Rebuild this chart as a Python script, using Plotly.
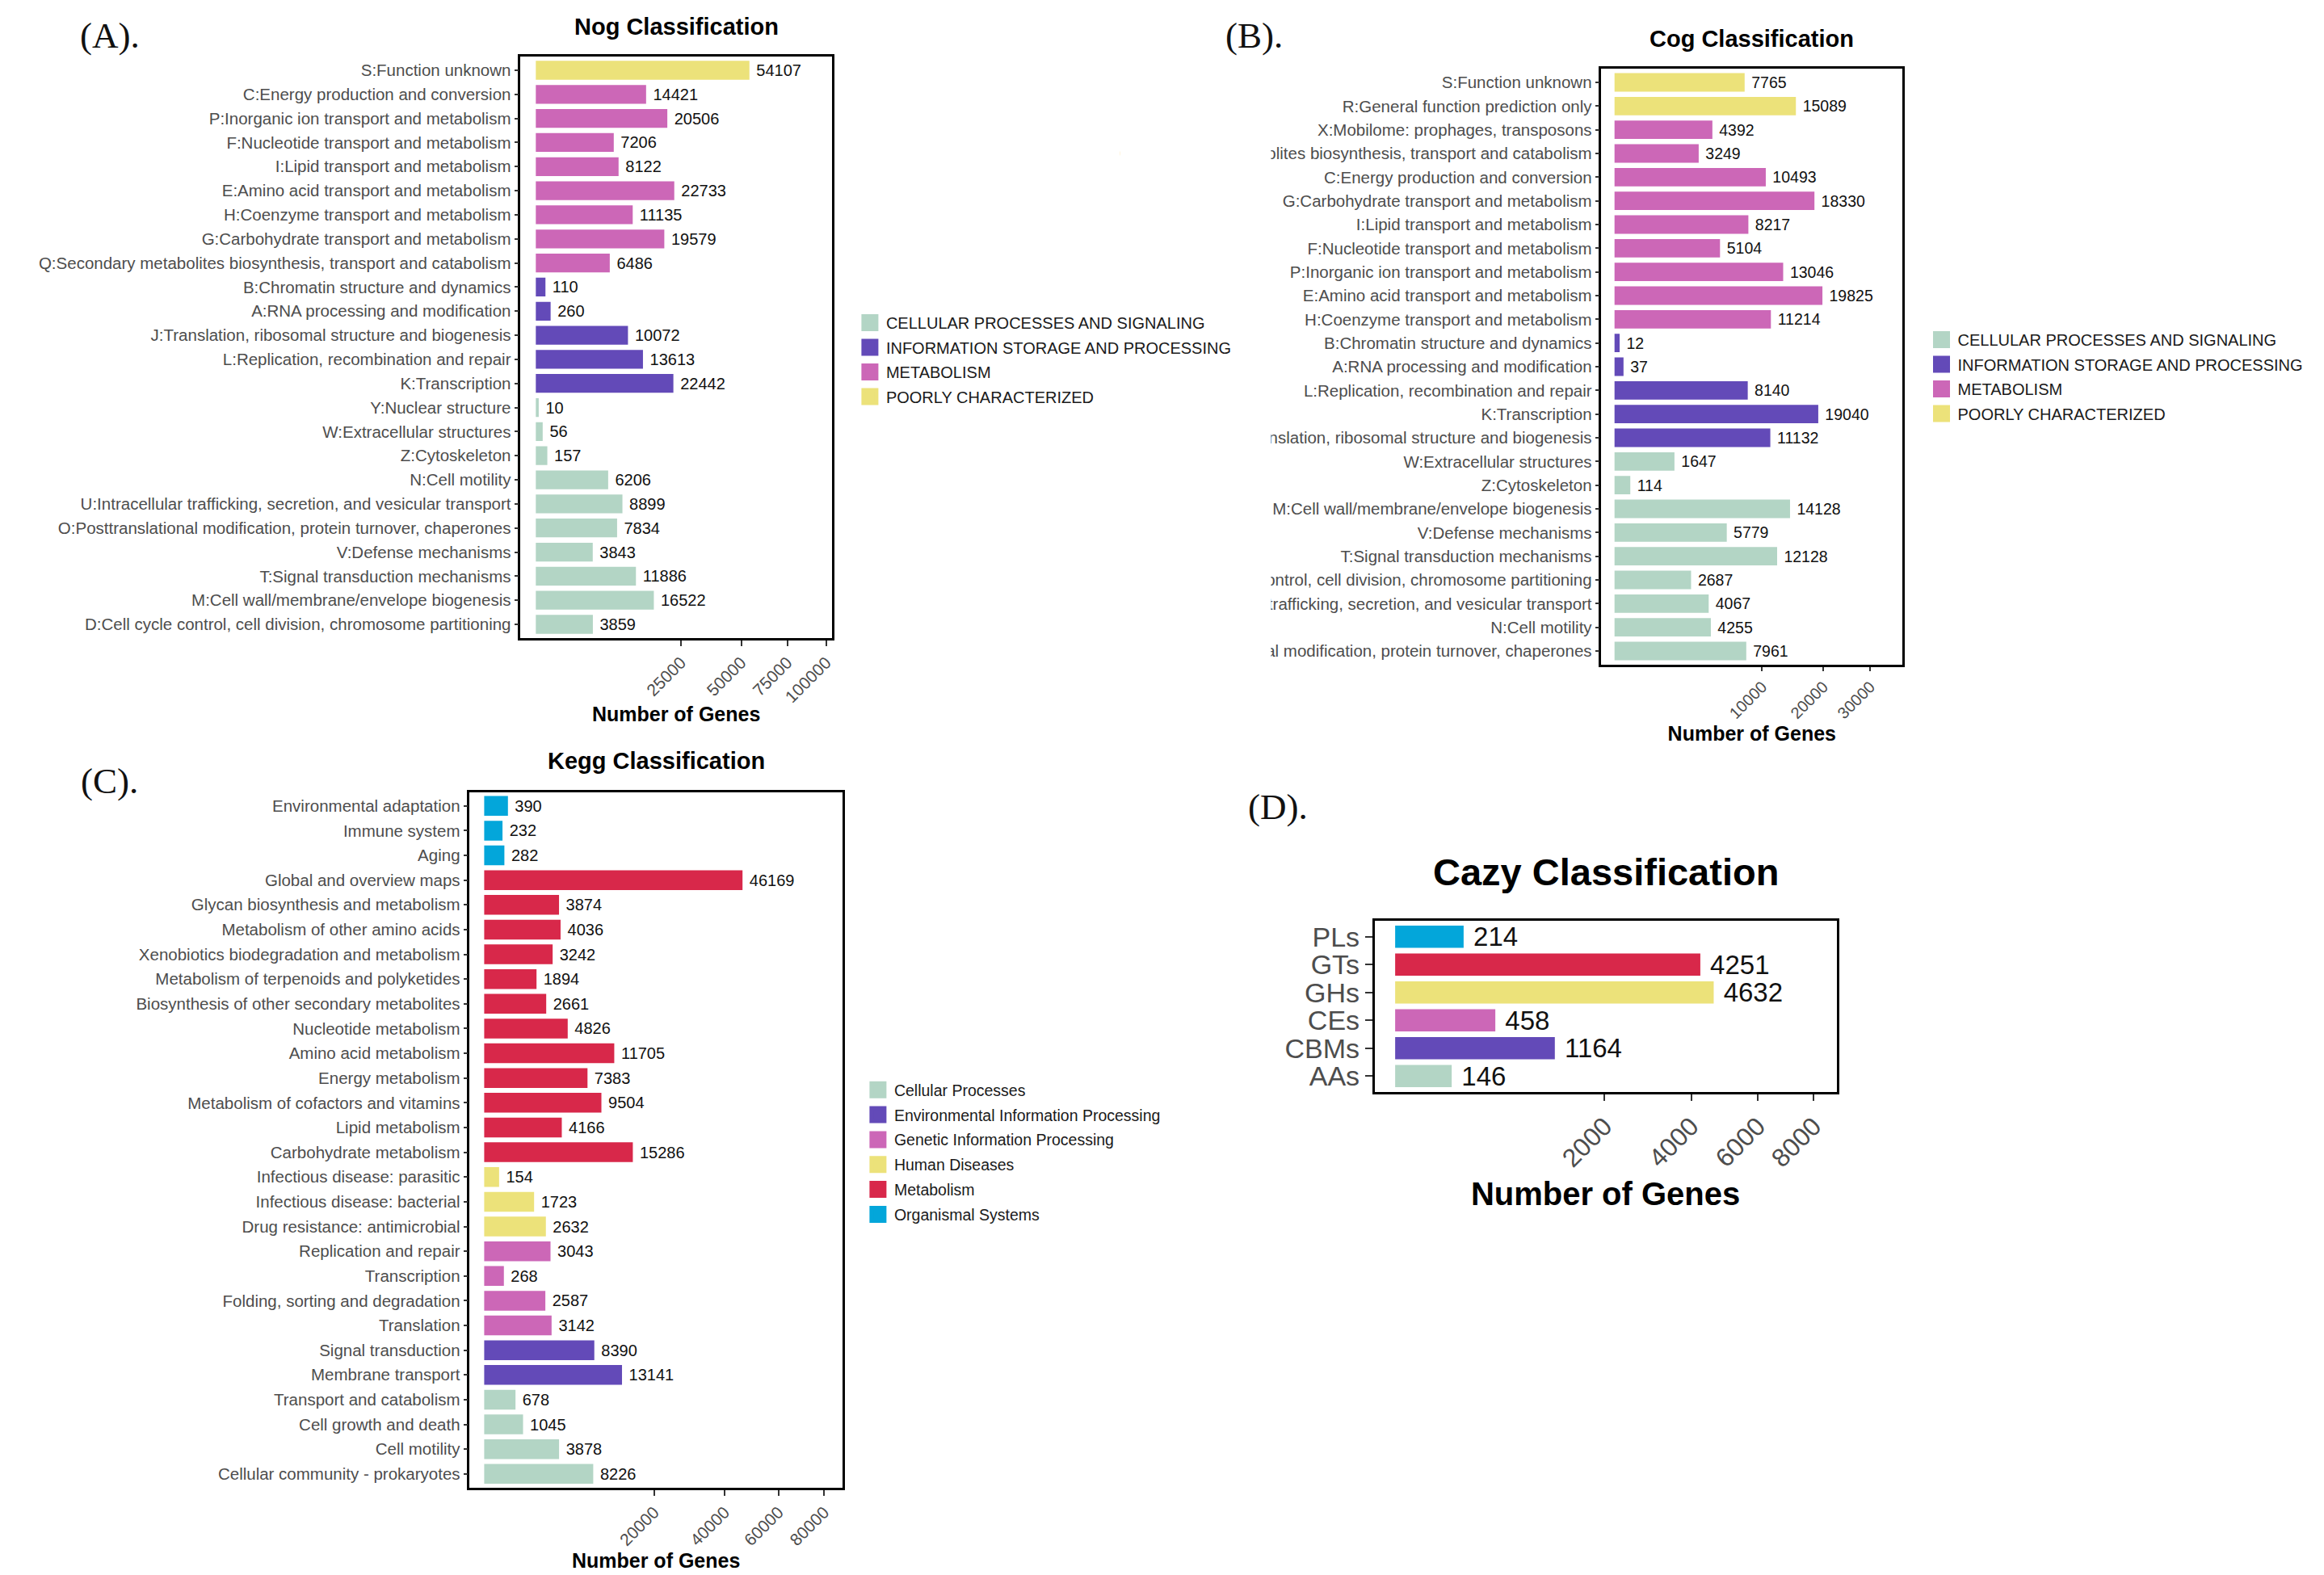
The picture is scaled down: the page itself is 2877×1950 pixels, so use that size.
import numpy as np
import plotly.graph_objects as go

W, H = 2877, 1950

# ---------------- data ----------------
nog_labels = [
    "S:Function unknown",
    "C:Energy production and conversion",
    "P:Inorganic ion transport and metabolism",
    "F:Nucleotide transport and metabolism",
    "I:Lipid transport and metabolism",
    "E:Amino acid transport and metabolism",
    "H:Coenzyme transport and metabolism",
    "G:Carbohydrate transport and metabolism",
    "Q:Secondary metabolites biosynthesis, transport and catabolism",
    "B:Chromatin structure and dynamics",
    "A:RNA processing and modification",
    "J:Translation, ribosomal structure and biogenesis",
    "L:Replication, recombination and repair",
    "K:Transcription",
    "Y:Nuclear structure",
    "W:Extracellular structures",
    "Z:Cytoskeleton",
    "N:Cell motility",
    "U:Intracellular trafficking, secretion, and vesicular transport",
    "O:Posttranslational modification, protein turnover, chaperones",
    "V:Defense mechanisms",
    "T:Signal transduction mechanisms",
    "M:Cell wall/membrane/envelope biogenesis",
    "D:Cell cycle control, cell division, chromosome partitioning",
]
nog_values = [54107, 14421, 20506, 7206, 8122, 22733, 11135, 19579, 6486,
              110, 260, 10072, 13613, 22442,
              10, 56, 157, 6206, 8899, 7834, 3843, 11886, 16522, 3859]
nog_groups = ["PC", "MET", "MET", "MET", "MET", "MET", "MET", "MET", "MET",
              "ISP", "ISP", "ISP", "ISP", "ISP",
              "CPS", "CPS", "CPS", "CPS", "CPS", "CPS", "CPS", "CPS", "CPS", "CPS"]

cog_labels = [
    "S:Function unknown",
    "R:General function prediction only",
    "X:Mobilome: prophages, transposons",
    "Q:Secondary metabolites biosynthesis, transport and catabolism",
    "C:Energy production and conversion",
    "G:Carbohydrate transport and metabolism",
    "I:Lipid transport and metabolism",
    "F:Nucleotide transport and metabolism",
    "P:Inorganic ion transport and metabolism",
    "E:Amino acid transport and metabolism",
    "H:Coenzyme transport and metabolism",
    "B:Chromatin structure and dynamics",
    "A:RNA processing and modification",
    "L:Replication, recombination and repair",
    "K:Transcription",
    "J:Translation, ribosomal structure and biogenesis",
    "W:Extracellular structures",
    "Z:Cytoskeleton",
    "M:Cell wall/membrane/envelope biogenesis",
    "V:Defense mechanisms",
    "T:Signal transduction mechanisms",
    "D:Cell cycle control, cell division, chromosome partitioning",
    "U:Intracellular trafficking, secretion, and vesicular transport",
    "N:Cell motility",
    "O:Posttranslational modification, protein turnover, chaperones",
]
cog_values = [7765, 15089, 4392, 3249, 10493, 18330, 8217, 5104, 13046, 19825, 11214,
              12, 37, 8140, 19040, 11132,
              1647, 114, 14128, 5779, 12128, 2687, 4067, 4255, 7961]
cog_groups = ["PC", "PC", "MET", "MET", "MET", "MET", "MET", "MET", "MET", "MET", "MET",
              "ISP", "ISP", "ISP", "ISP", "ISP",
              "CPS", "CPS", "CPS", "CPS", "CPS", "CPS", "CPS", "CPS", "CPS"]

kegg_labels = [
    "Environmental adaptation", "Immune system", "Aging",
    "Global and overview maps", "Glycan biosynthesis and metabolism",
    "Metabolism of other amino acids", "Xenobiotics biodegradation and metabolism",
    "Metabolism of terpenoids and polyketides", "Biosynthesis of other secondary metabolites",
    "Nucleotide metabolism", "Amino acid metabolism", "Energy metabolism",
    "Metabolism of cofactors and vitamins", "Lipid metabolism", "Carbohydrate metabolism",
    "Infectious disease: parasitic", "Infectious disease: bacterial", "Drug resistance: antimicrobial",
    "Replication and repair", "Transcription", "Folding, sorting and degradation", "Translation",
    "Signal transduction", "Membrane transport",
    "Transport and catabolism", "Cell growth and death", "Cell motility",
    "Cellular community - prokaryotes",
]
kegg_values = [390, 232, 282, 46169, 3874, 4036, 3242, 1894, 2661, 4826, 11705, 7383,
               9504, 4166, 15286, 154, 1723, 2632, 3043, 268, 2587, 3142, 8390, 13141,
               678, 1045, 3878, 8226]
kegg_groups = ["OS", "OS", "OS",
               "M", "M", "M", "M", "M", "M", "M", "M", "M", "M", "M", "M",
               "HD", "HD", "HD", "GIP", "GIP", "GIP", "GIP", "EIP", "EIP",
               "CP", "CP", "CP", "CP"]

cazy_labels = ["PLs", "GTs", "GHs", "CEs", "CBMs", "AAs"]
cazy_values = [214, 4251, 4632, 458, 1164, 146]
cazy_groups = ["OS", "M", "HD", "GIP", "EIP", "CP"]

nog_ticks = [25000, 50000, 75000, 100000]
cog_ticks = [10000, 20000, 30000]
kegg_ticks = [20000, 40000, 60000, 80000]
cazy_ticks = [2000, 4000, 6000, 8000]

cog_group_keys = ["CPS", "ISP", "MET", "PC"]
cog_group_names = ["CELLULAR PROCESSES AND SIGNALING", "INFORMATION STORAGE AND PROCESSING",
                   "METABOLISM", "POORLY CHARACTERIZED"]
kegg_group_keys = ["CP", "EIP", "GIP", "HD", "M", "OS"]
kegg_group_names = ["Cellular Processes", "Environmental Information Processing",
                    "Genetic Information Processing", "Human Diseases", "Metabolism",
                    "Organismal Systems"]

# ---------------- styles ----------------
MINT, PURPLE, PINK, YELLOW, RED, CYAN = "#B3D5C5", "#634AB8", "#CC67B7", "#ECE27A", "#D8284A", "#03A6DA"
cog_colors = {"CPS": MINT, "ISP": PURPLE, "MET": PINK, "PC": YELLOW}
kegg_colors = {"CP": MINT, "EIP": PURPLE, "GIP": PINK, "HD": YELLOW, "M": RED, "OS": CYAN}

SANS = "Liberation Sans, Arial, sans-serif"
SERIF = "Liberation Serif, Times New Roman, serif"
GREY = "#4D4D4D"


def fx(p):
    return p / W


def fy(p):
    return 1 - p / H


panels = [
    dict(labels=nog_labels, values=nog_values, groups=nog_groups, keys=cog_group_keys,
         names=cog_group_names, colors=cog_colors, ticks=nog_ticks, ax="", xpx=(637, 1023),
         ypx=(62, 782), xr=(-16.7, 322.5), pad=0.57, bw=0.78, vfont=20, yfont=20.5,
         xtfont=21, ttfont=25, ticklen=(7, 5), legend="legend", leg=(1050, 372),
         lfont=20, lgap=1.5, standoff=3),
    dict(labels=cog_labels, values=cog_values, groups=cog_groups, keys=cog_group_keys,
         names=cog_group_names, colors=cog_colors, ticks=cog_ticks, ax="2", xpx=(1976.5, 2349.6),
         ypx=(77, 815), xr=(-8.9, 195), pad=0.58, bw=0.78, vfont=19.5, yfont=20.5,
         xtfont=20, ttfont=25, ticklen=(5, 5), legend="legend2", leg=(2378, 393),
         lfont=20, lgap=1.5, standoff=0),
    dict(labels=kegg_labels, values=kegg_values, groups=kegg_groups, keys=kegg_group_keys,
         names=kegg_group_names, colors=kegg_colors, ticks=kegg_ticks, ax="3", xpx=(574, 1036),
         ypx=(972.6, 1834), xr=(-12.1, 298), pad=0.56, bw=0.8, vfont=20, yfont=20.5,
         xtfont=21, ttfont=25, ticklen=(7, 5), legend="legend3", leg=(1060, 1322),
         lfont=19.5, lgap=2.5, standoff=1),
    dict(labels=cazy_labels, values=cazy_values, groups=cazy_groups, keys=kegg_group_keys,
         names=None, colors=kegg_colors, ticks=cazy_ticks, ax="4", xpx=(1695.4, 2267.9),
         ypx=(1131.8, 1344.2), xr=(-4.4, 94.3), pad=0.58, bw=0.8, vfont=33, yfont=34,
         xtfont=32, ttfont=40, ticklen=(8, 9), legend=None, leg=None, lfont=None, lgap=0,
         standoff=14),
]

fig = go.Figure()
layout = dict(
    width=W, height=H, autosize=False,
    margin=dict(l=0, r=0, t=0, b=0),
    paper_bgcolor="white", plot_bgcolor="white",
    font=dict(family=SANS, color="#1a1a1a"),
    barmode="overlay", showlegend=True,
)

for p in panels:
    xa = "x" + p["ax"]
    ya = "y" + p["ax"]
    labels = p["labels"]
    vals = np.array(p["values"], dtype=float)
    groups = np.array(p["groups"])
    for key in p["keys"]:
        idx = np.where(groups == key)[0]
        if len(idx) == 0:
            continue
        fig.add_trace(go.Bar(
            x=np.sqrt(vals[idx]),
            y=[labels[i] for i in idx],
            orientation="h",
            width=p["bw"],
            marker=dict(color=p["colors"][key], line=dict(width=0)),
            text=["\u00a0" + str(int(v)) for v in vals[idx]],
            textposition="outside",
            textfont=dict(size=p["vfont"], color="#111111", family=SANS),
            constraintext="none",
            cliponaxis=False,
            showlegend=False,
            hoverinfo="skip",
            xaxis=xa, yaxis=ya,
        ))
    if p["legend"]:
        for key, name in zip(p["keys"], p["names"]):
            c = p["colors"][key]
            fig.add_trace(go.Scatter(
                x=[None], y=[None], mode="markers", name=name,
                legendgroup=p["legend"] + key,
                marker=dict(symbol="square", size=16, color=c, line=dict(color=c, width=5)),
                legend=p["legend"], xaxis=xa, yaxis=ya, hoverinfo="skip",
            ))
        layout[p["legend"]] = dict(
            x=fx(p["leg"][0]), y=fy(p["leg"][1]), xanchor="left", yanchor="top",
            bgcolor="rgba(0,0,0,0)", itemsizing="trace", tracegroupgap=p["lgap"],
            font=dict(size=p["lfont"], color="#1a1a1a", family=SANS),
        )
    n = len(labels)
    layout["xaxis" + p["ax"]] = dict(
        domain=[fx(p["xpx"][0]), fx(p["xpx"][1])], anchor=ya,
        range=list(p["xr"]), autorange=False,
        tickmode="array",
        tickvals=list(np.sqrt(np.array(p["ticks"], dtype=float))),
        ticktext=[str(t) for t in p["ticks"]],
        tickangle=-45, ticks="outside", ticklen=p["ticklen"][0], tickwidth=2, tickcolor="#333333",
        tickfont=dict(size=p["xtfont"], color=GREY, family=SANS),
        showline=True, mirror=True, linecolor="black", linewidth=2.5,
        showgrid=False, zeroline=False,
        title=dict(text="Number of Genes", standoff=p["standoff"],
                   font=dict(size=p["ttfont"], color="black", family=SANS, weight="bold")),
    )
    layout["yaxis" + p["ax"]] = dict(
        domain=[fy(p["ypx"][1]), fy(p["ypx"][0])], anchor=xa,
        type="category", categoryorder="array", categoryarray=labels,
        tickmode="array", tickvals=labels, ticktext=labels,
        range=[n - 1 + p["pad"], -p["pad"]], autorange=False,
        ticks="outside", ticklen=p["ticklen"][1], tickwidth=2, tickcolor="#333333",
        tickfont=dict(size=p["yfont"], color=GREY, family=SANS),
        showline=True, mirror=True, linecolor="black", linewidth=2.5,
        showgrid=False, zeroline=False,
    )

annotations = []
for txt, cx, cy in [("(A).", 128, 36), ("(B).", 1546, 36), ("(C).", 128, 959), ("(D).", 1576, 991)]:
    annotations.append(dict(text=txt, x=fx(cx), y=fy(cy), xref="paper", yref="paper",
                            xanchor="center", yanchor="middle", showarrow=False,
                            font=dict(family=SERIF, size=45, color="#111111")))
for txt, cx, cy, sz in [("Nog Classification", 830, 25, 29), ("Cog Classification", 2163, 40, 29),
                        ("Kegg Classification", 805, 934, 29), ("Cazy Classification", 1982, 1071, 47)]:
    annotations.append(dict(text=txt, x=fx(cx), y=fy(cy), xref="paper", yref="paper",
                            xanchor="center", yanchor="middle", showarrow=False,
                            font=dict(family=SANS, size=sz, color="black", weight="bold")))
layout["annotations"] = annotations

# panel (B) label overflow is clipped at the panel edge in the original composite
layout["shapes"] = [dict(type="rect", xref="paper", yref="paper", x0=fx(1380), x1=fx(1567),
                         y0=fy(835), y1=fy(72), fillcolor="white", line=dict(width=0), layer="above")]

fig.update_layout(**layout)
fig.write_html("out.html")
